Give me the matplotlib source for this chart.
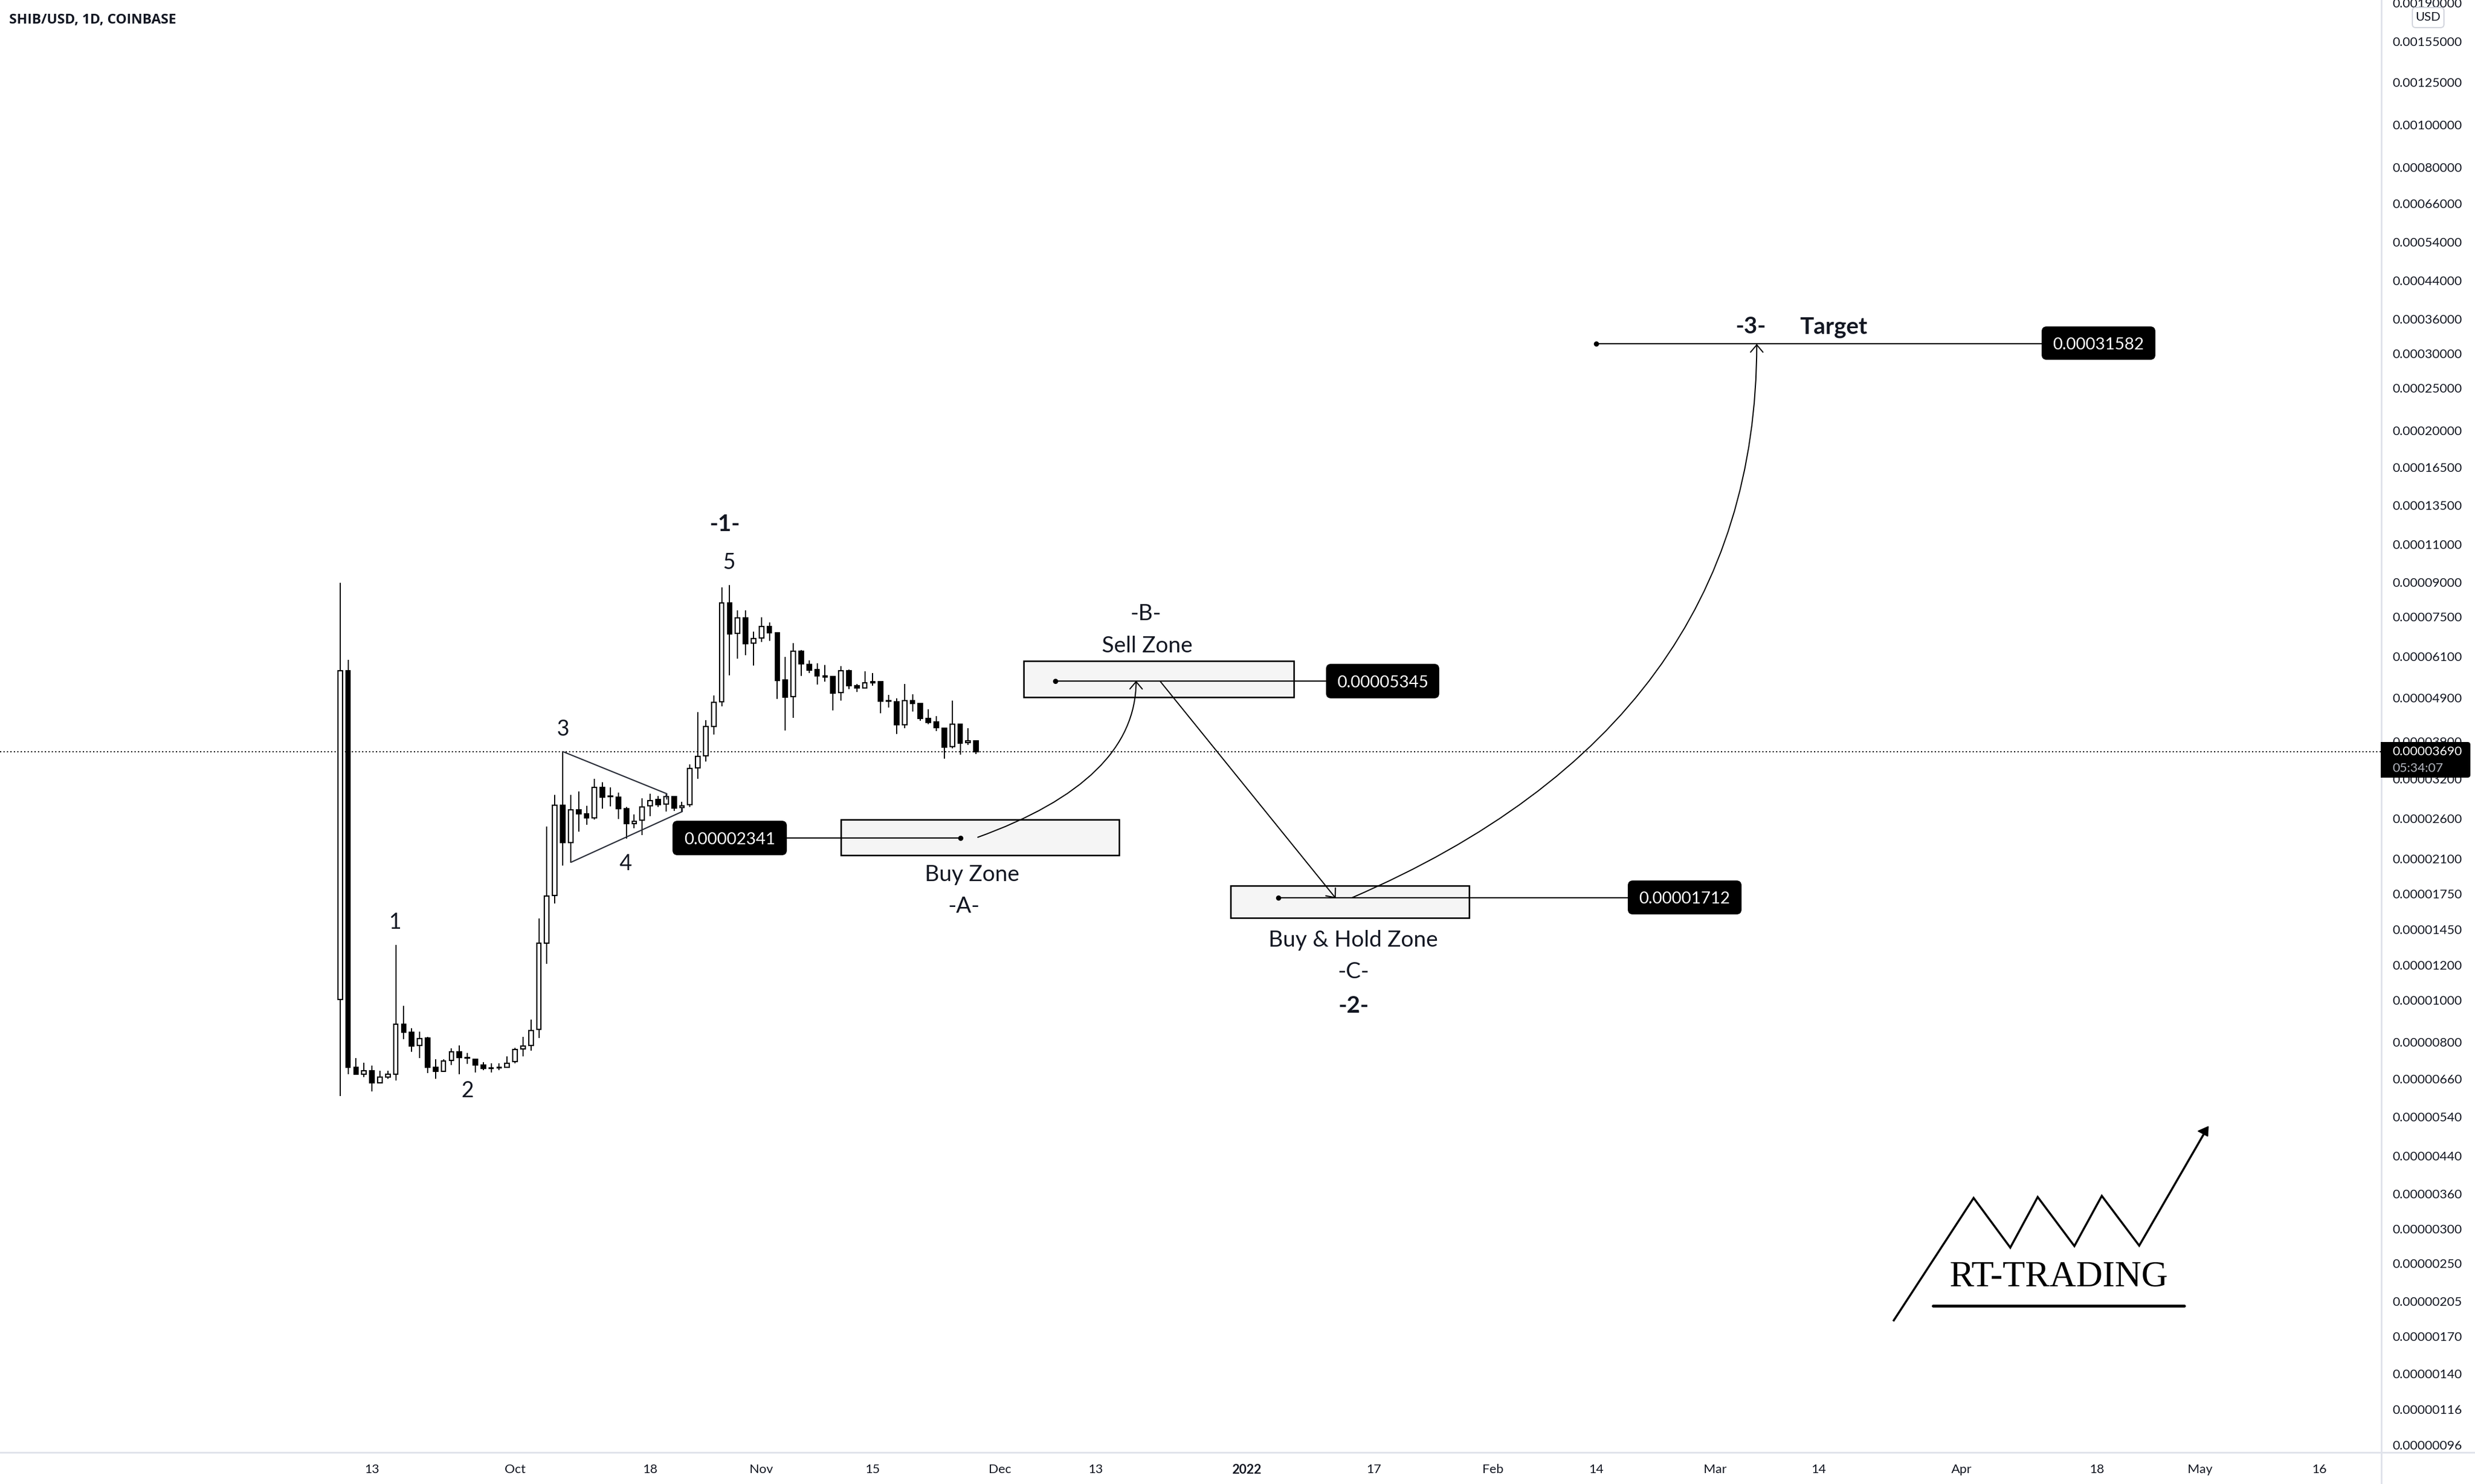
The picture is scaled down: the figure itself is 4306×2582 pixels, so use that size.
import numpy as np
import pandas as pd
import matplotlib
matplotlib.use('Agg')
import matplotlib.pyplot as plt
import matplotlib.dates as mdates
from matplotlib.patches import FancyBboxPatch, PathPatch, Rectangle
from matplotlib.path import Path
from matplotlib.ticker import NullLocator

W, H = 4306, 2582
AX_R, AX_B = 4143, 2527
INK = '#131722'
AXC = '#e0e3eb'
FONT = ['Lato', 'DejaVu Sans']
px = 0.72  # points per pixel at dpi=100
plt.rcParams['font.family'] = FONT

# prices in units of 1e-8 USD
UNIT = 1e-8
first_day = '2021-09-09'
opens = [1002,5654,701,677,688,647,666,677,880,843,787,818,701,687,726,761,739,731,710,700,701,702,722,772,787,856,1346,1730,2782,2290,2721,2662,2609,3054,2923,2901,2736,2524,2571,2776,2870,2799,2917,2749,2791,3387,3613,4220,4796,8086,6874,7475,6530,6717,7143,6895,5391,4929,6272,5850,5693,5507,5479,5034,5659,5231,5168,5337,5343,4835,4806,4249,4835,4762,4402,4323,4181,3788,4271,3869,3912]
closes = [5654,701,676,688,647,666,677,880,842,785,816,701,687,724,761,739,735,710,697,696,698,717,770,785,851,1346,1727,2782,2290,2716,2662,2609,3054,2901,2912,2736,2524,2561,2761,2854,2792,2914,2743,2779,3380,3602,4215,4786,8078,6868,7467,6517,6697,7136,6909,5370,4919,6265,5868,5670,5507,5473,5024,5647,5225,5163,5305,5305,4820,4811,4254,4830,4758,4398,4306,4190,3780,4267,3865,3904,3690]
highs = [8990,5985,735,718,707,688,688,1336,970,861,845,824,731,731,
         774,787,757,731,720,717,717,742,778,824,901,1536,2492,2939,
         3689,2939,2993,2776,3203,3145,3060,2977,2756,2652,2891,2955,2923,2950,
         2917,2839,3456,4551,4362,4968,8775,8881,7774,7774,6951,7497,7296,6909,
         6085,6543,6303,5975,5886,5832,5501,5797,5693,5268,5642,5591,5343,4983,
         4894,5278,4999,4777,4620,4456,4190,4835,4280,4173,3920]
lows = [602,677,674,665,618,645,660,653,812,761,736,681,660,684,
        710,677,713,683,691,682,691,701,717,743,765,819,1208,1659,
        2029,2059,2420,2510,2580,2731,2766,2590,2337,2465,2380,2633,2756,2694,
        2702,2694,2763,3198,3505,4041,4686,5512,6024,6128,5809,6576,6609,4874,
        4123,4411,5501,5579,5252,5337,4583,4825,5131,5054,5147,5225,4519,4653,
        4053,4177,4560,4340,4267,4110,3558,3758,3635,3826,3646]
last_price = 0.00003690

y_ticks = ['0.00190000','0.00155000','0.00125000','0.00100000','0.00080000','0.00066000','0.00054000',
           '0.00044000','0.00036000','0.00030000','0.00025000','0.00020000','0.00016500','0.00013500',
           '0.00011000','0.00009000','0.00007500','0.00006100','0.00004900','0.00003900','0.00003200',
           '0.00002600','0.00002100','0.00001750','0.00001450','0.00001200','0.00001000','0.00000800',
           '0.00000660','0.00000540','0.00000440','0.00000360','0.00000300','0.00000250','0.00000205',
           '0.00000170','0.00000140','0.00000116','0.00000096']
x_tick_dates = ['2021-09-13','2021-10-01','2021-10-18','2021-11-01','2021-11-15','2021-12-01','2021-12-13',
                '2022-01-01','2022-01-17','2022-02-01','2022-02-14','2022-03-01','2022-03-14','2022-04-01',
                '2022-04-18','2022-05-01','2022-05-16']
x_tick_labels = ['13','Oct','18','Nov','15','Dec','13','2022','17','Feb','14','Mar','14','Apr','18','May','16']

# zone name: start, end, top, bottom
zones = [('2021-11-11','2021-12-16',0.00002582,0.00002138),
         ('2021-12-04','2022-01-07',0.00005949,0.00004915),
         ('2021-12-30','2022-01-29',0.00001823,0.00001538)]
# level lines: dot date, date under the price tag, price
levels = [('2021-11-26','2021-10-28',0.00002341),
          ('2021-12-08','2022-01-18',0.00005345),
          ('2022-01-05','2022-02-25',0.00001712),
          ('2022-02-14','2022-04-18',0.00031582)]

def dn(s):
    return mdates.date2num(pd.Timestamp(s))

fig = plt.figure(figsize=(W/100, H/100), dpi=100, facecolor='white')
ax = fig.add_axes([0, 1-AX_B/H, AX_R/W, AX_B/H])
ax.set_yscale('log')
oct1 = dn('2021-10-01')
ax.set_xlim(oct1-64.79, oct1+234.78)
ax.set_ylim(9.24e-7, 0.001928)
for s in ax.spines.values():
    s.set_visible(False)
ax.patch.set_visible(False)

days = mdates.date2num(pd.date_range(first_day, periods=len(opens)))
o, c, hi, lo = [np.array(v)*UNIT for v in (opens, closes, highs, lows)]
up = c >= o
ax.vlines(days, lo, hi, color='black', lw=2*px, zorder=3)
ax.bar(days, np.abs(c-o), bottom=np.minimum(o, c), width=0.56, color=['white' if u else 'black' for u in up],
       edgecolor='black', linewidth=2.2*px, zorder=4)

ax.axhline(last_price, color='black', lw=2*px, ls=(0, (1.1, 1.9)), zorder=2)

for a, b, top, bot in zones:
    ax.add_patch(Rectangle((dn(a), bot), dn(b)-dn(a), top-bot, fc='#f5f5f5', ec='black', lw=2.6*px, zorder=1))
for a, b, p in levels:
    ax.plot([dn(a), dn(b)], [p, p], color='black', lw=2.2*px, zorder=2, solid_capstyle='butt')
    ax.plot([dn(a)], [p], 'o', color='black', ms=9*px, mew=0, zorder=3)

ax.set_yticks([float(t) for t in y_ticks])
ax.set_yticklabels(y_ticks)
ax.yaxis.set_minor_locator(NullLocator())
ax.tick_params(axis='y', which='both', left=False, labelleft=False, right=True, labelright=True,
               length=0, pad=19*px, labelsize=16, labelcolor=INK)
ax.set_xticks([dn(t) for t in x_tick_dates])
ax.set_xticklabels(x_tick_labels)
ax.tick_params(axis='x', length=0, pad=20*px, labelsize=16, labelcolor=INK)
ax.get_xticklabels()[x_tick_labels.index('2022')].set_fontweight('bold')

# annotation layer in figure pixels
ov = fig.add_axes([0, 0, 1, 1], zorder=5)
ov.set_xlim(0, W)
ov.set_ylim(H, 0)
ov.axis('off')
ov.patch.set_visible(False)

ov.plot([0, W], [AX_B, AX_B], color=AXC, lw=3*px, zorder=1)
ov.plot([AX_R, AX_R], [0, H], color=AXC, lw=3*px, zorder=1)

def tag(x0, x1, y0, y1, text):
    ov.add_patch(FancyBboxPatch((x0+9, y0+9), x1-x0-18, y1-y0-18, boxstyle='round,pad=9,rounding_size=9',
                                fc='black', ec='none', zorder=6))
    ov.text((x0+x1)/2, (y0+y1)/2+3, text, color='white', fontsize=21, ha='center', va='center', zorder=7)

tag(1170, 1369, 1428, 1488, '0.00002341')
tag(2307, 2504, 1155, 1215, '0.00005345')
tag(2832, 3030, 1532, 1591, '0.00001712')
tag(3552, 3750, 568, 626, '0.00031582')

# current price tag
ov.add_patch(FancyBboxPatch((4142, 1291), 156, 62, boxstyle='round,pad=0,rounding_size=5', fc='black', ec='none', zorder=6))
ov.add_patch(Rectangle((4142, 1291), 10, 62, fc='black', ec='none', zorder=6))
ov.text(4162, 1308, '0.00003690', color='white', fontsize=16, va='center', zorder=7)
ov.text(4162, 1337, '05:34:07', color='#b2b5be', fontsize=16, va='center', zorder=7)

# USD badge
ov.add_patch(FancyBboxPatch((4197+6, 13+6), 55-12, 35-12, boxstyle='round,pad=6,rounding_size=6',
                            fc='white', ec='#d1d4dc', lw=2*px, zorder=6))
ov.text(4224.5, 30.5, 'USD', color=INK, fontsize=15.5, ha='center', va='center', zorder=7)

ov.text(16, 41, 'SHIB/USD, 1D, COINBASE', family=['Open Sans', 'DejaVu Sans'], color=INK, fontsize=17.3,
        fontweight='bold', va='baseline')

labels = [('Sell Zone', 1996, 1135, False, 28), ('-B-', 1994, 1079, False, 28), ('Buy Zone', 1691, 1533, False, 28),
          ('-A-', 1677, 1588, False, 28), ('Buy & Hold Zone', 2354, 1647, False, 28), ('-C-', 2355, 1702, False, 28),
          ('-2-', 2355, 1762, True, 29), ('-3-', 3046, 580, True, 29), ('Target', 3190, 580, True, 29),
          ('-1-', 1261, 924, True, 29), ('5', 1269, 990, False, 27), ('3', 979, 1280, False, 27),
          ('4', 1089, 1514, False, 27), ('1', 688, 1616, False, 27), ('2', 813, 1909, False, 27)]
for t, x, y, b, fs in labels:
    ov.text(x, y, t, color=INK, fontsize=fs, ha='center', va='baseline', fontweight='bold' if b else 'normal')

def arrowhead(a, b, size=15):
    a, b = np.array(a, float), np.array(b, float)
    d = (a-b)/np.hypot(*(a-b))
    n = np.array([-d[1], d[0]])
    for s in (1, -1):
        q = b + d*size*0.85 + n*s*size*0.72
        ov.plot([b[0], q[0]], [b[1], q[1]], color='black', lw=2*px, zorder=3, solid_capstyle='round')

def curve(p0, p1, p2):
    ov.add_patch(PathPatch(Path([p0, p1, p2], [Path.MOVETO, Path.CURVE3, Path.CURVE3]), fc='none', ec='black',
                           lw=2*px, zorder=3))
    arrowhead(p1, p2)

curve((1700.5, 1457), (1976, 1358), (1976.6, 1186))
curve((2352, 1562), (3056, 1259), (3056.4, 600))
ov.plot([2019, 2323], [1186, 1561.7], color='black', lw=2*px, zorder=3)
arrowhead((2019, 1186), (2323, 1561.7))

# triangle pattern
tri = '#2a2e39'
ov.plot([980, 1160, 1160], [1308, 1381, 1390], color=tri, lw=2.2*px, zorder=2)
ov.plot([994, 1187, 1187], [1500, 1412, 1405], color=tri, lw=2.2*px, zorder=2)

# RT-TRADING logo
ov.plot([3294.8, 3433.7, 3497.5, 3545.2, 3609, 3656.7, 3721.8, 3836],
        [2297.3, 2084.3, 2170.7, 2082.7, 2168, 2080.7, 2167.3, 1970], color='black', lw=3.6*px,
        solid_joinstyle='miter', zorder=3)
ov.add_patch(plt.Polygon([(3842, 1960), (3824, 1968), (3841, 1977)], fc='black', ec='black', lw=1, zorder=3))
ov.plot([3363, 3800], [2272, 2272], color='black', lw=5*px, solid_capstyle='round', zorder=3)
ov.text(3581, 2237, 'RT-TRADING', family=['Liberation Serif'], color='black', fontsize=46, ha='center', va='baseline', zorder=3)

fig.savefig('out.png', dpi=100)
